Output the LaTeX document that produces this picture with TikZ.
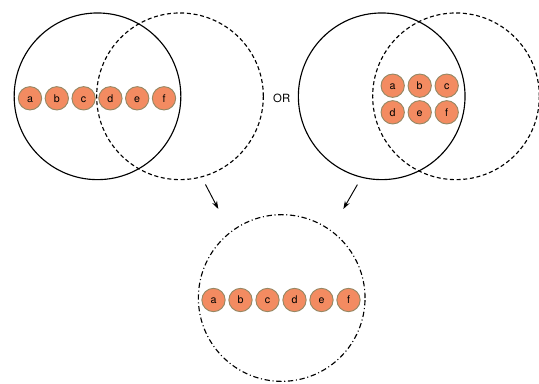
\documentclass[tikz,border=0pt]{standalone}
\usepackage{fontspec}
\setmainfont{TeX Gyre Heros}
\usepackage{xcolor}
\usepackage{tikz}
\usetikzlibrary{arrows.meta}
\definecolor{ballfill}{RGB}{243,139,97}
\definecolor{ballrim}{RGB}{150,136,100}

\begin{document}
\begin{tikzpicture}[x=0.75pt,y=0.75pt,yscale=-1,xscale=1,
  ball/.style={circle,draw=ballrim,fill=ballfill,line width=0.7,minimum size=17.5pt,inner sep=0pt,
    text height=5.6pt,text depth=0pt,font=\fontsize{8}{9.5}\selectfont},
  ring/.style={circle,draw,line width=0.85,minimum size=125pt,inner sep=0pt},
  dashring/.style={ring,dash pattern={on 3pt off 2pt}},
  dotring/.style={ring,dash pattern={on 4pt off 2pt on 0.8pt off 2pt}},
  flow/.style={line width=0.7,-{Stealth[length=6pt,width=4pt]}}]
\path [use as bounding box] (0,0) rectangle (539,383);

%Shape: Circle (left pair)
\draw (97.5,96.3) node (solL) [ring] {};
%Shape: Circle
\draw (180,96.3) node (dashL) [dashring] {};
%Shape: Circle (right pair)
\draw (381.7,96.3) node (solR) [ring] {};
%Shape: Circle
\draw (456,96.3) node (dashR) [dashring] {};
%Shape: Circle (result)
\draw (281.7,298) node (res) [dotring] {};

% Balls: left row
\draw (30,98.3) node (la) [ball] {a};
\draw (56.8,98.3) node (lb) [ball] {b};
\draw (83.6,98.3) node (lc) [ball] {c};
\draw (110.4,98.3) node (ld) [ball] {d};
\draw (137.2,98.3) node (le) [ball] {e};
\draw (164,98.3) node (lf) [ball] {f};

% Balls: right grid
\draw (392.7,85.7) node (ra) [ball] {a};
\draw (419.7,85.7) node (rb) [ball] {b};
\draw (446.7,85.7) node (rc) [ball] {c};
\draw (392.7,112.3) node (rd) [ball] {d};
\draw (419.7,112.3) node (re) [ball] {e};
\draw (446.7,112.3) node (rf) [ball] {f};

% Balls: result row
\draw (213.5,300) node (ba) [ball] {a};
\draw (240.5,300) node (bb) [ball] {b};
\draw (267.5,300) node (bc) [ball] {c};
\draw (294.5,300) node (bd) [ball] {d};
\draw (321.5,300) node (be) [ball] {e};
\draw (348.5,300) node (bf) [ball] {f};

% Text Node
\draw (281.7,98.3) node (or) [font=\fontsize{8.5}{10}\selectfont] {OR};

%Straight Lines
\coordinate (tipL) at (218.3,209);
\coordinate (tipR) at (343.3,209);
\draw [flow,shorten <=6] (dashL.-75) -- (tipL);
\draw [flow,shorten <=6] (solR.-104) -- (tipR);

\end{tikzpicture}
\end{document}
